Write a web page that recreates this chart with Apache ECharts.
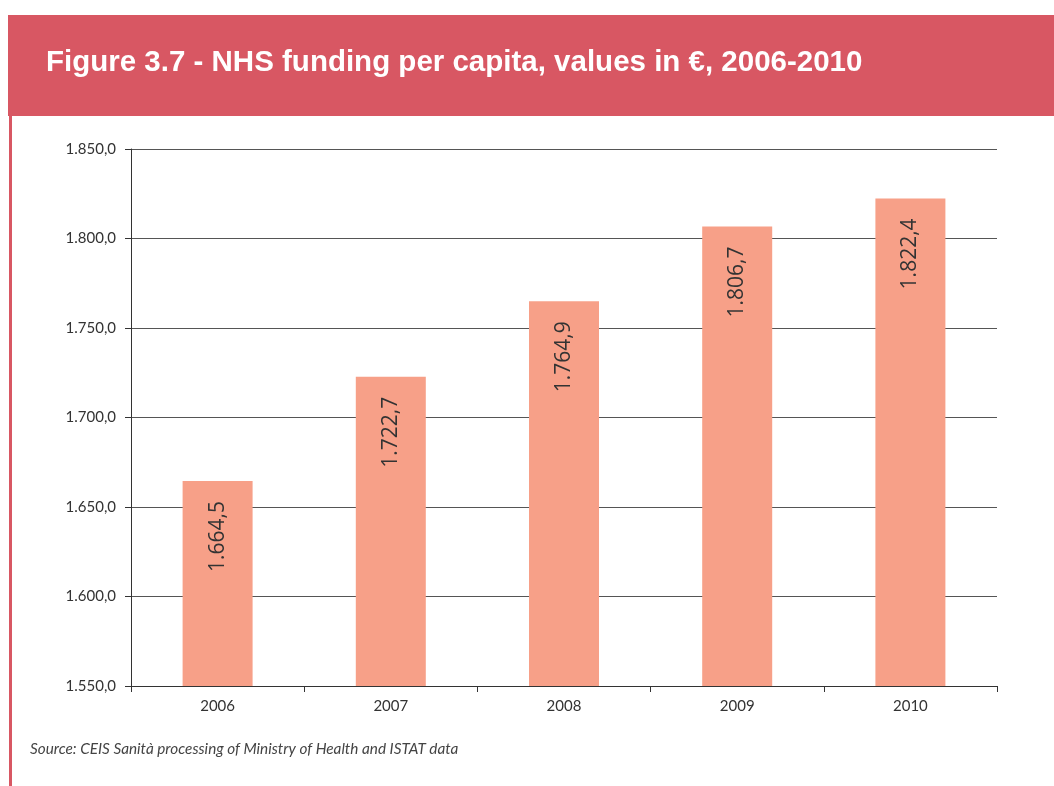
<!DOCTYPE html>
<html>
<head>
<meta charset="utf-8">
<style>
  html, body { margin: 0; padding: 0; background: #ffffff; }
  #chart { width: 1054px; height: 786px; }
</style>
<script src="https://cdn.jsdelivr.net/npm/echarts@6/dist/echarts.min.js"></script>
</head>
<body>
<div id="chart"></div>
<script>
// NHS funding per capita (€), 2006-2010
const years = ['2006', '2007', '2008', '2009', '2010'];
const funding = [1664.5, 1722.7, 1764.9, 1806.7, 1822.4];
const yMin = 1550;
const yMax = 1850;
const yStep = 50;

// Italian-style number formatting: 1.850,0
function fmt(v) {
  const fixed = v.toFixed(1);
  const parts = fixed.split('.');
  const intPart = parts[0].replace(/\B(?=(\d{3})+(?!\d))/g, '.');
  return intPart + ',' + parts[1];
}

const chart = echarts.init(document.getElementById('chart'), null, { renderer: 'canvas' });

chart.setOption({
  animation: false,
  backgroundColor: '#ffffff',
  title: {
    text: 'Figure 3.7 - NHS funding per capita, values in €, 2006-2010',
    left: 46,
    top: 48,
    padding: 0,
    textStyle: {
      color: '#ffffff',
      fontFamily: 'Liberation Sans, Arial, sans-serif',
      fontWeight: 'bold',
      fontSize: 29.5
    }
  },
  graphic: [
    {
      type: 'rect',
      z: -1,
      shape: { x: 8, y: 15, width: 1046, height: 101 },
      style: { fill: '#D85763' }
    },
    {
      type: 'rect',
      z: -1,
      shape: { x: 9, y: 116, width: 3, height: 670 },
      style: { fill: '#D85763' }
    },
    {
      type: 'text',
      left: 30,
      top: 742,
      style: {
        text: 'Source: CEIS Sanità processing of Ministry of Health and ISTAT data',
        fill: '#444444',
        font: 'italic 15.3px Lato, "Open Sans", sans-serif'
      }
    }
  ],
  grid: {
    left: 131,
    right: 57,
    top: 149,
    bottom: 100
  },
  xAxis: {
    type: 'category',
    data: years,
    boundaryGap: true,
    axisLine: { show: true, lineStyle: { color: '#333333', width: 1 } },
    axisTick: { show: true, alignWithLabel: false, length: 6, lineStyle: { color: '#333333' } },
    axisLabel: {
      color: '#333333',
      fontSize: 15,
      fontFamily: 'Lato, "Open Sans", sans-serif',
      margin: 13
    }
  },
  yAxis: {
    type: 'value',
    min: yMin,
    max: yMax,
    interval: yStep,
    axisLine: { show: true, lineStyle: { color: '#333333', width: 1 } },
    axisTick: { show: true, length: 6, lineStyle: { color: '#333333' } },
    splitLine: { show: true, lineStyle: { color: '#555555', width: 1 } },
    axisLabel: {
      color: '#333333',
      fontSize: 15,
      fontFamily: 'Lato, "Open Sans", sans-serif',
      margin: 15,
      formatter: function (v) { return fmt(v); }
    }
  },
  series: [
    {
      type: 'bar',
      data: funding,
      barWidth: 70,
      z: 3,
      itemStyle: { color: '#F7A088' },
      label: {
        show: true,
        position: 'insideTop',
        rotate: 90,
        align: 'right',
        verticalAlign: 'middle',
        distance: 20,
        color: '#333333',
        fontSize: 21,
        fontFamily: '"Open Sans", "Noto Sans", sans-serif',
        formatter: function (p) { return fmt(p.value); }
      }
    }
  ]
});
</script>
</body>
</html>
